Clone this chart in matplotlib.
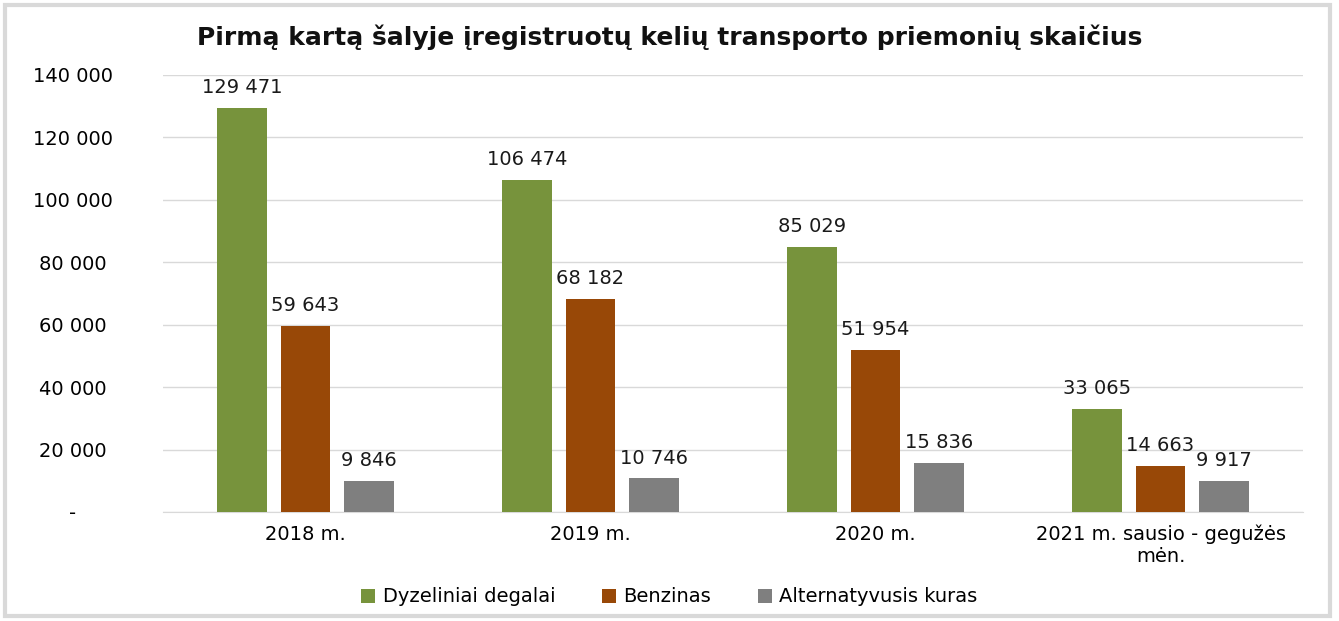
import numpy as np
import matplotlib.pyplot as plt
from matplotlib.patches import Rectangle
from matplotlib.ticker import FuncFormatter

# Duomenys
kategorijos = ["2018 m.", "2019 m.", "2020 m.", "2021 m. sausio - gegužės\nmėn."]
dyzelinas = [129471, 106474, 85029, 33065]
benzinas = [59643, 68182, 51954, 14663]
alternatyvus = [9846, 10746, 15836, 9917]
serijos = ["Dyzeliniai degalai", "Benzinas", "Alternatyvusis kuras"]
spalvos = ["#77933C", "#984807", "#7F7F7F"]

plt.rcParams['font.family'] = ['DejaVu Sans']

fig = plt.figure(figsize=(13.39, 6.21), dpi=100)
ax = fig.add_axes([163 / 1339, 1 - 512 / 621, 1140 / 1339, 437 / 621])

# rėmelis aplink visą paveikslą
fig.patches.append(Rectangle((0.004, 0.008), 0.989, 0.984, transform=fig.transFigure,
                             fill=False, edgecolor="#D9D9D9", linewidth=3))

x = np.arange(len(kategorijos))
plotis = 0.175
poslinkis = 0.223
for i, (vals, pav, sp) in enumerate(zip([dyzelinas, benzinas, alternatyvus], serijos, spalvos)):
    bars = ax.bar(x + (i - 1) * poslinkis, vals, plotis, color=sp, label=pav, zorder=3)
    for b, v in zip(bars, vals):
        ax.text(b.get_x() + b.get_width() / 2, v + 3500, f"{v:,}".replace(",", " "),
                ha="center", va="bottom", fontsize=14, color="#1a1a1a")

ax.set_xlim(-0.5, len(kategorijos) - 0.5)
ax.set_ylim(0, 140000)
ax.set_yticks(np.arange(0, 140001, 20000))
ax.yaxis.set_major_formatter(FuncFormatter(lambda v, p: "-" if v == 0 else f"{int(v):,}".replace(",", " ")))
ax.set_xticks(x)
ax.set_xticklabels(kategorijos, fontsize=14, linespacing=1.2)
ax.tick_params(axis="y", labelsize=14, length=0, pad=65)
ax.tick_params(axis="x", length=0, pad=9)
for lbl in ax.get_yticklabels():
    lbl.set_horizontalalignment("center")
ax.grid(axis="y", color="#D9D9D9", linewidth=1, zorder=0)
for s in ["top", "right", "left"]:
    ax.spines[s].set_visible(False)
ax.spines["bottom"].set_color("#D9D9D9")

fig.text(0.5, 1 - 37 / 621, "Pirmą kartą šalyje įregistruotų kelių transporto priemonių skaičius",
         ha="center", va="center", fontsize=18, fontweight="bold", color="#111111")

fig.legend(loc="center", bbox_to_anchor=(0.5, 1 - 597 / 621), ncol=3, frameon=False,
           fontsize=14, handlelength=0.7, handleheight=0.7, handletextpad=0.4, columnspacing=2.4)

fig.savefig("out.png", dpi=100)
